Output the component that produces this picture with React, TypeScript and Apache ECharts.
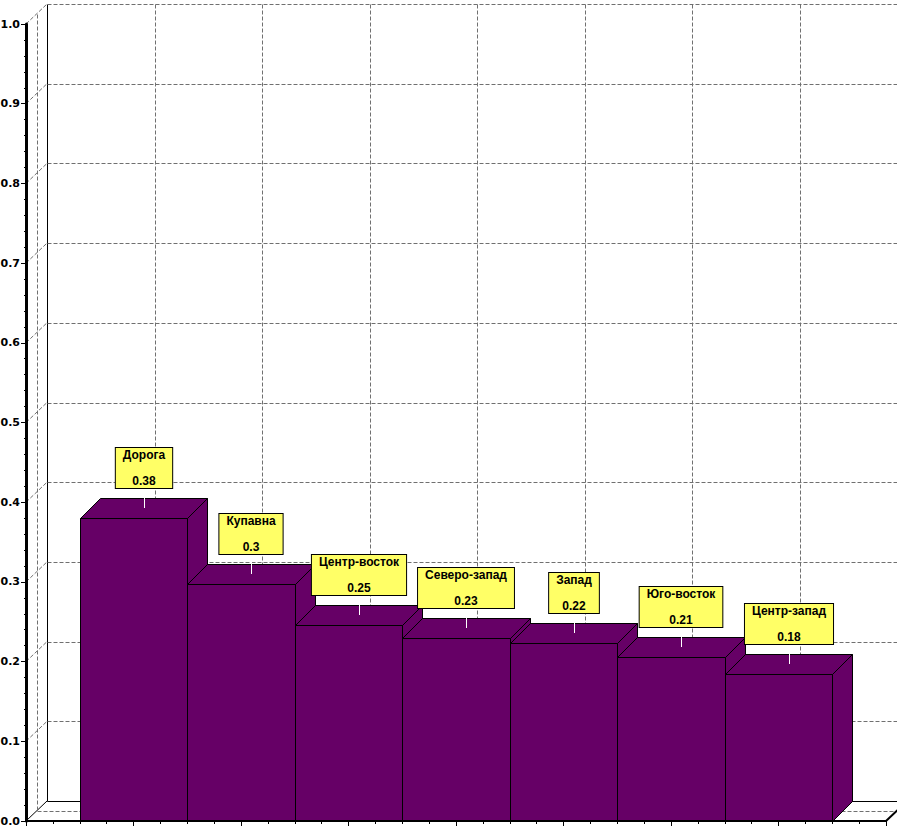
import React, { useEffect, useRef } from "react";
import * as echarts from "echarts";

// ---- data ----
const categories = ["Дорога", "Купавна", "Центр-восток", "Северо-запад", "Запад", "Юго-восток", "Центр-запад"];
const values = [0.38, 0.297, 0.246, 0.229, 0.223, 0.206, 0.184];
const yTicks = [0, 0.1, 0.2, 0.3, 0.4, 0.5, 0.6, 0.7, 0.8, 0.9, 1.0];
const yTickLabels = ["0.0", "0.1", "0.2", "0.3", "0.4", "0.5", "0.6", "0.7", "0.8", "0.9", "1.0"];

// ---- style ----
const BAR_COLOR = "#660066";
const LABEL_BG = "#ffff66";
const GRID_COLOR = "#707070";
const FONT_FAMILY = "'Liberation Sans', Arial, sans-serif";
const AXIS_FONT = "'DejaVu Sans', sans-serif";
const X_MAX = categories.length + 1;
const WALL_DX = 21;
const WALL_DY = 20;
const BAR_D = 20;
const DASH = [4, 2];

const c = (n: number) => Math.round(n) + 0.5;

function labelText(v: number) {
  return String(Math.round(v * 100) / 100);
}

export default function App() {
  const ref = useRef<HTMLDivElement>(null);

  useEffect(() => {
    if (!ref.current) return;
    const chart = echarts.init(ref.current, undefined, { renderer: "svg" });

    const wallData = yTicks.map((v) => [0, v]);
    const vGridData = categories.map((_, i) => [i + 1, 0]);
    const barData = values.map((v, i) => [i + 1, v]);

    const dashed = { stroke: GRID_COLOR, lineWidth: 1, lineDash: DASH, fill: null };
    const solid = { stroke: "#000", lineWidth: 1, fill: null };

    const option: any = {
      animation: false,
      backgroundColor: "#fff",
      grid: { left: 26, right: 11, top: 24, bottom: 8, containLabel: false, outerBoundsMode: "none" },
      xAxis: [
        {
          type: "value",
          min: 0,
          max: X_MAX,
          interval: 0.25,
          position: "bottom",
          z: 5,
          axisLine: { show: true, lineStyle: { color: "#000", width: 2 } },
          axisTick: { show: true, length: 3, lineStyle: { color: "#000", width: 1 } },
          axisLabel: { show: false },
          splitLine: { show: false },
        },
        {
          type: "value",
          min: 0,
          max: X_MAX,
          interval: 1,
          position: "bottom",
          offset: 0,
          z: 5,
          axisLine: { show: false },
          axisTick: { show: true, length: 5, lineStyle: { color: "#000", width: 1 } },
          axisLabel: { show: false },
          splitLine: { show: false },
        },
      ],
      yAxis: {
        type: "value",
        min: 0,
        max: 1,
        interval: 0.1,
        z: 5,
        axisLine: { show: true, lineStyle: { color: "#000", width: 3 } },
        axisTick: { show: true, length: 5, lineStyle: { color: "#000", width: 1 } },
        minorTick: { show: true, splitNumber: 5, length: 2, lineStyle: { color: "#000", width: 1 } },
        splitLine: { show: false },
        minorSplitLine: { show: false },
        axisLabel: {
          color: "#000",
          fontFamily: AXIS_FONT,
          fontWeight: "bold",
          fontSize: 11,
          margin: 6,
          formatter: (v: number) => yTickLabels[Math.round(v * 10)],
        },
      },
      series: [
        // back wall / side wall horizontal grid
        {
          type: "custom",
          z: 1,
          silent: true,
          data: wallData,
          renderItem: (params: any, api: any) => {
            const v = api.value(1);
            const [x0, y] = api.coord([0, v]);
            const [x1] = api.coord([X_MAX, v]);
            const [, yTop] = api.coord([0, 1]);
            const [, yBot] = api.coord([0, 0]);
            const isBase = v === 0;
            const st = isBase ? solid : dashed;
            const children: any[] = [
              { type: "line", shape: { x1: c(x0 + WALL_DX), y1: c(y - WALL_DY), x2: x1 + WALL_DX + 20, y2: c(y - WALL_DY) }, style: st },
              { type: "line", shape: { x1: x0, y1: y, x2: x0 + WALL_DX, y2: y - WALL_DY }, style: st },
            ];
            if (isBase) {
              children.push({ type: "line", shape: { x1: c(x0 + WALL_DX), y1: c(yTop - WALL_DY), x2: c(x0 + WALL_DX), y2: c(yBot - WALL_DY) }, style: solid });
              children.push({ type: "line", shape: { x1: c(x0 + WALL_DX / 2), y1: c(yTop - WALL_DY / 2), x2: c(x0 + WALL_DX / 2), y2: c(yBot - WALL_DY / 2) }, style: dashed });
              children.push({ type: "line", shape: { x1: c(x0 + WALL_DX / 2), y1: c(yBot - WALL_DY / 2), x2: x1 + WALL_DX + 20, y2: c(yBot - WALL_DY / 2) }, style: dashed });
              children.push({ type: "line", shape: { x1: x1, y1: yBot, x2: x1 + WALL_DX, y2: yBot - WALL_DY }, style: { stroke: "#000", lineWidth: 2, fill: null } });
            }
            return { type: "group", children };
          },
        },
        // back wall vertical grid
        {
          type: "custom",
          z: 1,
          silent: true,
          data: vGridData,
          renderItem: (params: any, api: any) => {
            const u = api.value(0);
            const [x, yBot] = api.coord([u, 0]);
            const [, yTop] = api.coord([u, 1]);
            return {
              type: "line",
              shape: { x1: c(x + WALL_DX), y1: c(yTop - WALL_DY), x2: c(x + WALL_DX), y2: c(yBot - WALL_DY) },
              style: dashed,
            };
          },
        },
        // 3D bars
        {
          type: "custom",
          z: 2,
          data: barData,
          renderItem: (params: any, api: any) => {
            const u = api.value(0);
            const v = api.value(1);
            const [cx, ty0] = api.coord([u, v]);
            const [, by0] = api.coord([u, 0]);
            const w = api.size([1, 0])[0];
            const l = c(cx - w / 2);
            const r = c(cx + w / 2);
            const ty = c(ty0);
            const by = c(by0);
            const d = BAR_D;
            const st = { fill: BAR_COLOR, stroke: "#000", lineWidth: 1 };
            return {
              type: "group",
              children: [
                { type: "polygon", shape: { points: [[r, ty], [r + d, ty - d], [r + d, by - d], [r, by]] }, style: st },
                { type: "polygon", shape: { points: [[l, ty], [r, ty], [r + d, ty - d], [l + d, ty - d]] }, style: st },
                { type: "rect", shape: { x: l, y: ty, width: r - l, height: by - ty }, style: st },
              ],
            };
          },
        },
        // labels
        {
          type: "custom",
          z: 3,
          data: barData,
          renderItem: (params: any, api: any) => {
            const u = api.value(0);
            const v = api.value(1);
            const idx = params.dataIndex;
            const [cx, ty] = api.coord([u, v]);
            const lx = c(cx + BAR_D / 2);
            return {
              type: "group",
              children: [
                { type: "line", shape: { x1: lx, y1: Math.round(ty - BAR_D / 2), x2: lx, y2: Math.round(ty - BAR_D - 10) }, style: { stroke: "#fff", lineWidth: 1 } },
                {
                  type: "text",
                  x: Math.round(cx + BAR_D / 2),
                  y: Math.round(ty - BAR_D - 10),
                  style: {
                    text: `${categories[idx]}\n\n${labelText(v)}`,
                    fill: "#000",
                    fontFamily: FONT_FAMILY,
                    fontWeight: "bold",
                    fontSize: 12,
                    lineHeight: 13.34,
                    align: "center",
                    verticalAlign: "bottom",
                    backgroundColor: LABEL_BG,
                    borderColor: "#000",
                    borderWidth: 1,
                    padding: [0, 7],
                  },
                },
              ],
            };
          },
        },
      ],
    };

    chart.setOption(option);
    return () => chart.dispose();
  }, []);

  return (
    <div
      ref={ref}
      style={{ position: "absolute", left: 0, top: 0, width: 897, height: 829, background: "#fff" }}
    />
  );
}
